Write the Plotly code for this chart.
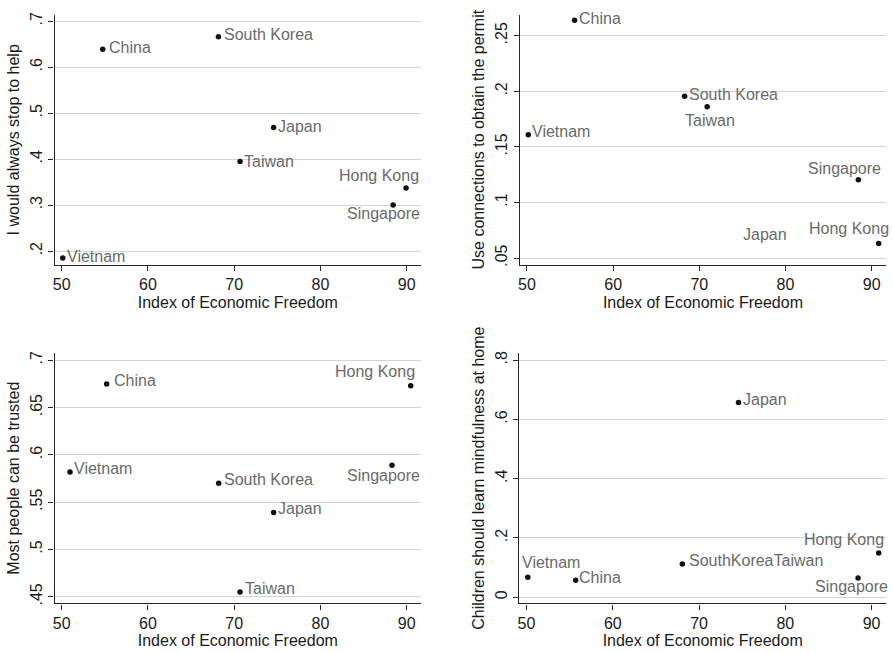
import plotly.graph_objects as go

# ---- data: one set of arrays per panel ----
x_label = "Index of Economic Freedom"
x_ticks = [50, 60, 70, 80, 90]

p1_title = "I would always stop to help"
p1_countries = ["China", "South Korea", "Japan", "Taiwan", "Hong Kong", "Singapore", "Vietnam"]
p1_freedom = [54.75, 68.17, 74.57, 70.68, 89.93, 88.43, 50.12]
p1_share = [0.639, 0.666, 0.469, 0.395, 0.337, 0.300, 0.185]
p1_ticks = [0.2, 0.3, 0.4, 0.5, 0.6, 0.7]
p1_ticktext = [".2", ".3", ".4", ".5", ".6", ".7"]

p2_title = "Use connections to obtain the permit"
p2_countries = ["China", "South Korea", "Taiwan", "Vietnam", "Singapore", "Hong Kong", "Japan"]
p2_freedom = [55.52, 68.29, 70.91, 50.15, 88.46, 90.82, 74.57]
p2_share = [0.264, 0.1955, 0.186, 0.161, 0.1205, 0.063, 0.069]
p2_ticks = [0.05, 0.10, 0.15, 0.20, 0.25]
p2_ticktext = [".05", ".1", ".15", ".2", ".25"]

p3_title = "Most people can be trusted"
p3_countries = ["China", "Hong Kong", "Vietnam", "Singapore", "South Korea", "Japan", "Taiwan"]
p3_freedom = [55.21, 90.47, 50.96, 88.30, 68.20, 74.57, 70.68]
p3_share = [0.675, 0.673, 0.582, 0.589, 0.570, 0.539, 0.455]
p3_ticks = [0.45, 0.50, 0.55, 0.60, 0.65, 0.70]
p3_ticktext = [".45", ".5", ".55", ".6", ".65", ".7"]

p4_title = "Children should learn mindfulness at home"
p4_countries = ["Japan", "Hong Kong", "SouthKoreaTaiwan", "Vietnam", "China", "Singapore"]
p4_freedom = [74.57, 90.82, 68.06, 50.15, 55.70, 88.43]
p4_share = [0.657, 0.149, 0.112, 0.067, 0.057, 0.065]
p4_ticks = [0.0, 0.2, 0.4, 0.6, 0.8]
p4_ticktext = ["0", ".2", ".4", ".6", ".8"]

# ---- styling ----
FONT = "Liberation Sans, Arial, Helvetica, sans-serif"
W, H = 893, 653
AXIS_COL = "#262626"
GRID_COL = "#d4d4d4"
LABEL_COL = "#6a6a6a"

# label placement: country -> (anchor, dx px, dy px of text centre, + = down)
place1 = {"China": ("left", 6.3, -1.5), "South Korea": ("left", 5.3, -2.7),
          "Japan": ("left", 4.3, -1.0), "Taiwan": ("left", 3.7, 0.0),
          "Hong Kong": ("right", 13.3, -12.2), "Singapore": ("right", 27.3, 8.5),
          "Vietnam": ("left", 4.0, -1.5)}
place2 = {"China": ("left", 4.7, -1.8), "South Korea": ("left", 4.7, -2.3),
          "Taiwan": ("center", 3.2, 13.8), "Vietnam": ("left", 4.0, -2.8),
          "Singapore": ("right", 22.7, -11.2), "Hong Kong": ("right", 10.7, -15.2),
          "Japan": ("left", 4.4, -2.0)}
place3 = {"China": ("left", 7.3, -3.8), "Hong Kong": ("right", 4.7, -14.2),
          "Vietnam": ("left", 4.3, -3.5), "Singapore": ("right", 28.3, 10.7),
          "South Korea": ("left", 5.0, -4.2), "Japan": ("left", 4.3, -4.2),
          "Taiwan": ("left", 4.7, -3.2)}
place4 = {"Japan": ("left", 4.3, -2.8), "Hong Kong": ("right", 5.0, -13.5),
          "SouthKoreaTaiwan": ("left", 6.3, -3.7), "Vietnam": ("left", -5.3, -15.0),
          "China": ("left", 3.3, -3.0), "Singapore": ("right", 29.7, 8.5)}
no_marker = {2: {"Japan"}}

# plot areas in pixels: (left, right, top, bottom)
boxes = {1: (52.7, 420, 11.7, 264), 2: (519, 886, 11.7, 263.7),
         3: (52.7, 420, 352.7, 605), 4: (518.5, 886, 352.7, 605)}
x_range = [49.17, 91.67]
y_ranges = {1: [0.1698, 0.7142], 2: [0.044, 0.269], 3: [0.443, 0.7077], 4: [-0.021, 0.8245]}

panels = {
    1: (p1_title, p1_countries, p1_freedom, p1_share, p1_ticks, p1_ticktext, place1),
    2: (p2_title, p2_countries, p2_freedom, p2_share, p2_ticks, p2_ticktext, place2),
    3: (p3_title, p3_countries, p3_freedom, p3_share, p3_ticks, p3_ticktext, place3),
    4: (p4_title, p4_countries, p4_freedom, p4_share, p4_ticks, p4_ticktext, place4),
}

fig = go.Figure()
annotations = []
layout = {}

for i, (ytitle, names, xs, ys, yt, ytt, place) in panels.items():
    sfx = "" if i == 1 else str(i)
    left, right, top, bottom = boxes[i]
    hidden = no_marker.get(i, set())
    mx = [x for n, x in zip(names, xs) if n not in hidden]
    my = [y for n, y in zip(names, ys) if n not in hidden]
    fig.add_trace(go.Scatter(
        x=mx, y=my, mode="markers", xaxis="x" + sfx, yaxis="y" + sfx,
        marker=dict(size=5.5, color="#111111"), cliponaxis=False,
        showlegend=False, hoverinfo="skip"))

    layout["xaxis" + sfx] = dict(
        domain=[left / W, right / W], anchor="y" + sfx, range=x_range,
        tickmode="array", tickvals=x_ticks, ticks="outside", ticklen=5,
        tickwidth=1.3, tickcolor=AXIS_COL, showline=True, linecolor=AXIS_COL,
        linewidth=1.3, showgrid=False, zeroline=False,
        tickfont=dict(family=FONT, size=16, color="#1a1a1a"),
        title=dict(text=x_label, font=dict(family=FONT, size=16, color="#1a1a1a"),
                   standoff=4),
    )
    layout["yaxis" + sfx] = dict(
        domain=[1 - bottom / H, 1 - top / H], anchor="x" + sfx, range=y_ranges[i],
        tickmode="array", tickvals=yt, ticktext=ytt, tickangle=-90,
        ticks="outside", ticklen=5, tickwidth=1.3, tickcolor=AXIS_COL,
        showline=True, linecolor=AXIS_COL, linewidth=1.3,
        showgrid=True, gridcolor=GRID_COL, gridwidth=1.2, zeroline=False,
        tickfont=dict(family=FONT, size=16, color="#1a1a1a"),
        title=dict(text=ytitle, font=dict(family=FONT, size=16, color="#1a1a1a"),
                   standoff=4),
    )

    for n, x, y in zip(names, xs, ys):
        anchor, dx, dy = place[n]
        annotations.append(dict(
            x=x, y=y, xref="x" + sfx, yref="y" + sfx, text=n, showarrow=False,
            xanchor=anchor, yanchor="middle", xshift=dx, yshift=-dy,
            borderpad=0, borderwidth=0,
            font=dict(family=FONT, size=16, color=LABEL_COL)))

fig.update_layout(
    width=W, height=H, margin=dict(l=0, r=0, t=0, b=0),
    paper_bgcolor="white", plot_bgcolor="white",
    annotations=annotations, showlegend=False, **layout)

fig.write_html("out.html")
